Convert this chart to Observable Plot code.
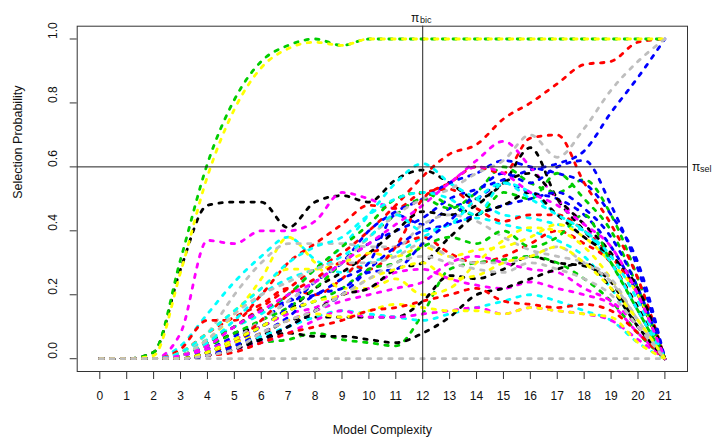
<!DOCTYPE html>
<html>
<head>
<meta charset="utf-8">
<script src="https://cdn.jsdelivr.net/npm/d3@7"></script>
<script src="https://cdn.jsdelivr.net/npm/@observablehq/plot@0.6"></script>
<style>
  html, body { margin: 0; padding: 0; background: #fff; }
</style>
</head>
<body>
<div id="chart"></div>
<script>
// Model complexity steps (x) and tick labels
const complexity = [0,1,2,3,4,5,6,7,8,9,10,11,12,13,14,15,16,17,18,19,20,21];
const xTicks = [0,1,2,3,4,5,6,7,8,9,10,11,12,13,14,15,16,17,18,19,20,21];
const yTicks = [0.0, 0.2, 0.4, 0.6, 0.8, 1.0];
const piBic = 12;
const piSel = 0.6;

// R default palette order (col = 1:8 recycled)
const palette = ["black", "red", "#00CD00", "blue", "cyan", "magenta", "yellow", "#BEBEBE"];

// Selection probability paths, grouped by colour (five per colour)
const pathsBlack = [
  [0,0,0.02,0.28,0.48,0.49,0.49,0.41,0.49,0.51,0.49,0.56,0.59,0.55,0.50,0.55,0.66,0.50,0.40,0.30,0.16,0],
  [0,0,0,0,0.01,0.03,0.07,0.12,0.13,0.13,0.13,0.13,0.18,0.26,0.25,0.28,0.32,0.30,0.29,0.24,0.10,0],
  [0,0,0,0.01,0.04,0.08,0.10,0.15,0.22,0.27,0.33,0.40,0.46,0.45,0.48,0.55,0.58,0.50,0.42,0.33,0.20,0],
  [0,0,0,0,0.02,0.04,0.06,0.08,0.07,0.07,0.06,0.05,0.08,0.13,0.20,0.22,0.25,0.28,0.30,0.22,0.10,0],
  [0,0,0,0,0.01,0.03,0.06,0.10,0.15,0.20,0.22,0.28,0.30,0.38,0.45,0.48,0.52,0.45,0.38,0.32,0.22,0]
];
const pathsRed = [
  [0,0,0,0.01,0.05,0.10,0.16,0.22,0.28,0.33,0.40,0.48,0.57,0.64,0.67,0.75,0.80,0.86,0.92,0.93,0.99,1.0],
  [0,0,0,0.02,0.08,0.13,0.17,0.22,0.20,0.25,0.33,0.35,0.38,0.33,0.30,0.32,0.36,0.40,0.36,0.30,0.15,0],
  [0,0,0,0.03,0.12,0.12,0.20,0.30,0.36,0.42,0.48,0.47,0.52,0.53,0.47,0.43,0.45,0.45,0.40,0.32,0.20,0],
  [0,0,0,0,0.02,0.05,0.12,0.20,0.25,0.30,0.28,0.35,0.50,0.55,0.60,0.58,0.69,0.70,0.55,0.42,0.25,0],
  [0,0,0,0,0.01,0.02,0.05,0.08,0.10,0.12,0.15,0.16,0.18,0.20,0.22,0.18,0.17,0.16,0.17,0.15,0.08,0]
];
const pathsGreen = [
  [0,0,0.02,0.31,0.61,0.81,0.93,0.98,1.0,0.98,1,1,1,1,1,1,1,1,1,1,1,1],
  [0,0,0,0,0.01,0.03,0.05,0.06,0.08,0.06,0.05,0.04,0.14,0.28,0.30,0.31,0.32,0.30,0.25,0.18,0.08,0],
  [0,0,0,0.01,0.04,0.08,0.12,0.16,0.22,0.30,0.38,0.45,0.50,0.47,0.52,0.60,0.55,0.52,0.56,0.45,0.25,0],
  [0,0,0,0.01,0.05,0.10,0.15,0.20,0.28,0.35,0.42,0.50,0.52,0.48,0.45,0.52,0.50,0.58,0.50,0.40,0.22,0],
  [0,0,0,0,0.02,0.06,0.10,0.15,0.18,0.22,0.28,0.30,0.35,0.38,0.36,0.40,0.35,0.38,0.45,0.30,0.15,0]
];
const pathsBlue = [
  [0,0,0,0.01,0.03,0.07,0.12,0.18,0.24,0.30,0.36,0.40,0.44,0.50,0.53,0.56,0.59,0.61,0.65,0.77,0.88,1.0],
  [0,0,0,0.01,0.05,0.10,0.15,0.18,0.20,0.25,0.30,0.45,0.42,0.47,0.50,0.55,0.52,0.50,0.45,0.35,0.20,0],
  [0,0,0,0,0.02,0.05,0.10,0.16,0.24,0.30,0.40,0.46,0.50,0.55,0.58,0.62,0.60,0.58,0.55,0.45,0.30,0],
  [0,0,0,0,0.01,0.03,0.06,0.10,0.15,0.20,0.28,0.35,0.40,0.42,0.45,0.48,0.50,0.52,0.47,0.38,0.22,0],
  [0,0,0,0,0.01,0.04,0.08,0.13,0.20,0.22,0.27,0.28,0.36,0.43,0.52,0.58,0.55,0.60,0.62,0.48,0.28,0]
];
const pathsCyan = [
  [0,0,0,0.04,0.14,0.24,0.32,0.38,0.31,0.27,0.30,0.33,0.38,0.42,0.44,0.42,0.40,0.37,0.32,0.22,0.10,0],
  [0,0,0,0.02,0.06,0.10,0.14,0.20,0.28,0.35,0.45,0.55,0.61,0.55,0.50,0.45,0.44,0.42,0.40,0.30,0.15,0],
  [0,0,0,0,0.02,0.04,0.07,0.10,0.13,0.15,0.14,0.13,0.12,0.14,0.16,0.18,0.20,0.18,0.15,0.12,0.05,0],
  [0,0,0,0.01,0.05,0.12,0.20,0.25,0.28,0.32,0.38,0.45,0.40,0.42,0.50,0.55,0.52,0.45,0.40,0.30,0.15,0],
  [0,0,0,0.02,0.08,0.15,0.22,0.30,0.35,0.38,0.45,0.50,0.52,0.50,0.45,0.55,0.50,0.45,0.40,0.32,0.18,0]
];
const pathsMagenta = [
  [0,0,0,0.08,0.37,0.36,0.40,0.40,0.43,0.52,0.50,0.47,0.50,0.55,0.62,0.68,0.60,0.50,0.42,0.30,0.15,0],
  [0,0,0,0,0.02,0.05,0.08,0.12,0.15,0.18,0.20,0.22,0.24,0.30,0.32,0.30,0.28,0.27,0.22,0.18,0.10,0],
  [0,0,0,0.01,0.03,0.06,0.10,0.14,0.16,0.20,0.22,0.27,0.28,0.25,0.23,0.22,0.24,0.22,0.20,0.17,0.08,0],
  [0,0,0,0,0.01,0.03,0.05,0.08,0.12,0.15,0.13,0.13,0.14,0.15,0.16,0.14,0.16,0.15,0.14,0.12,0.06,0],
  [0,0,0,0.01,0.04,0.10,0.15,0.20,0.24,0.30,0.36,0.42,0.48,0.55,0.60,0.58,0.52,0.48,0.42,0.35,0.20,0]
];
const pathsYellow = [
  [0,0,0.01,0.27,0.57,0.78,0.91,0.97,0.99,0.98,1,1,1,1,1,1,1,1,1,1,1,1],
  [0,0,0,0.01,0.06,0.14,0.25,0.38,0.30,0.22,0.22,0.25,0.20,0.22,0.30,0.37,0.41,0.40,0.35,0.25,0.12,0],
  [0,0,0,0.02,0.08,0.15,0.22,0.28,0.28,0.30,0.33,0.32,0.35,0.32,0.34,0.35,0.38,0.42,0.38,0.30,0.20,0],
  [0,0,0,0,0.02,0.05,0.08,0.12,0.14,0.13,0.15,0.17,0.16,0.15,0.15,0.14,0.16,0.15,0.14,0.13,0.05,0],
  [0,0,0,0,0.02,0.06,0.10,0.15,0.18,0.20,0.25,0.28,0.30,0.25,0.26,0.30,0.32,0.35,0.30,0.22,0.12,0]
];
const pathsGray = [
  [0,0,0,0,0,0,0,0,0,0,0,0,0,0,0,0,0,0,0,0,0,0],
  [0,0,0,0.02,0.08,0.20,0.30,0.36,0.36,0.36,0.35,0.35,0.42,0.45,0.43,0.38,0.34,0.32,0.30,0.25,0.12,0],
  [0,0,0,0,0.02,0.06,0.12,0.18,0.24,0.30,0.38,0.45,0.50,0.53,0.58,0.62,0.70,0.63,0.72,0.84,0.93,1.0],
  [0,0,0,0.01,0.06,0.14,0.20,0.24,0.28,0.30,0.30,0.32,0.36,0.32,0.30,0.30,0.32,0.35,0.30,0.24,0.12,0],
  [0,0,0,0,0.01,0.03,0.08,0.12,0.15,0.20,0.25,0.30,0.32,0.30,0.28,0.27,0.30,0.28,0.25,0.20,0.10,0]
];

const groups = [pathsBlack, pathsRed, pathsGreen, pathsBlue, pathsCyan, pathsMagenta, pathsYellow, pathsGray];

// Build long table in R matplot order: column j gets palette[j % 8]
const rows = [];
let id = 0;
for (let k = 0; k < 5; k++) {
  for (let c = 0; c < 8; c++) {
    const vals = groups[c][k];
    vals.forEach((v, i) => rows.push({x: complexity[i], y: v, id, color: palette[c]}));
    id++;
  }
}

const font = "'Liberation Sans', Arial, Helvetica, sans-serif";

const chart = Plot.plot({
  width: 713,
  height: 442,
  marginLeft: 76.7,
  marginRight: 26,
  marginTop: 25.7,
  marginBottom: 71,
  x: {domain: [-0.84, 21.84], axis: null},
  y: {domain: [-0.04, 1.04], axis: null},
  color: {type: "identity"},
  style: {fontFamily: font, fontSize: "12px", background: "white", overflow: "visible", color: "#111"},
  marks: [
    Plot.line(rows, {
      x: "x", y: "y", z: "id", stroke: "color",
      strokeWidth: 2.8, strokeDasharray: "3.4,7.3", strokeLinecap: "round",
      curve: "monotone-x"
    }),
    Plot.ruleX([piBic], {stroke: "#222", strokeWidth: 1}),
    Plot.ruleY([piSel], {stroke: "#222", strokeWidth: 1}),
    Plot.frame({stroke: "#333", strokeWidth: 1}),
    Plot.axisX({ticks: xTicks, tickSize: 8, tickPadding: 12, tickFormat: d => String(d), label: null, fontSize: 12, stroke: "#333"}),
    Plot.axisY({ticks: yTicks, tickSize: 7, tickFormat: () => "", label: null, stroke: "#333"}),
    Plot.text(yTicks, {y: d => d, text: d => d.toFixed(1), frameAnchor: "left", dx: -24, rotate: -90, fontSize: 12}),
    Plot.text(["Model Complexity"], {frameAnchor: "bottom", dy: 62, fontSize: 12.5}),
    Plot.text(["Selection Probability"], {frameAnchor: "left", dx: -58.7, rotate: -90, fontSize: 12.5}),
    Plot.text(["π"], {x: piBic, frameAnchor: "top", dy: -13, dx: -3.5, textAnchor: "end", fontSize: 12}),
    Plot.text(["bic"], {x: piBic, frameAnchor: "top", dy: -10, dx: -2.6, textAnchor: "start", fontSize: 9}),
    Plot.text(["π"], {y: piSel, frameAnchor: "right", dx: 4.5, textAnchor: "start", fontSize: 12}),
    Plot.text(["sel"], {y: piSel, frameAnchor: "right", dx: 12.4, dy: 2.5, textAnchor: "start", fontSize: 9})
  ]
});

document.getElementById("chart").appendChild(chart);
</script>
</body>
</html>
